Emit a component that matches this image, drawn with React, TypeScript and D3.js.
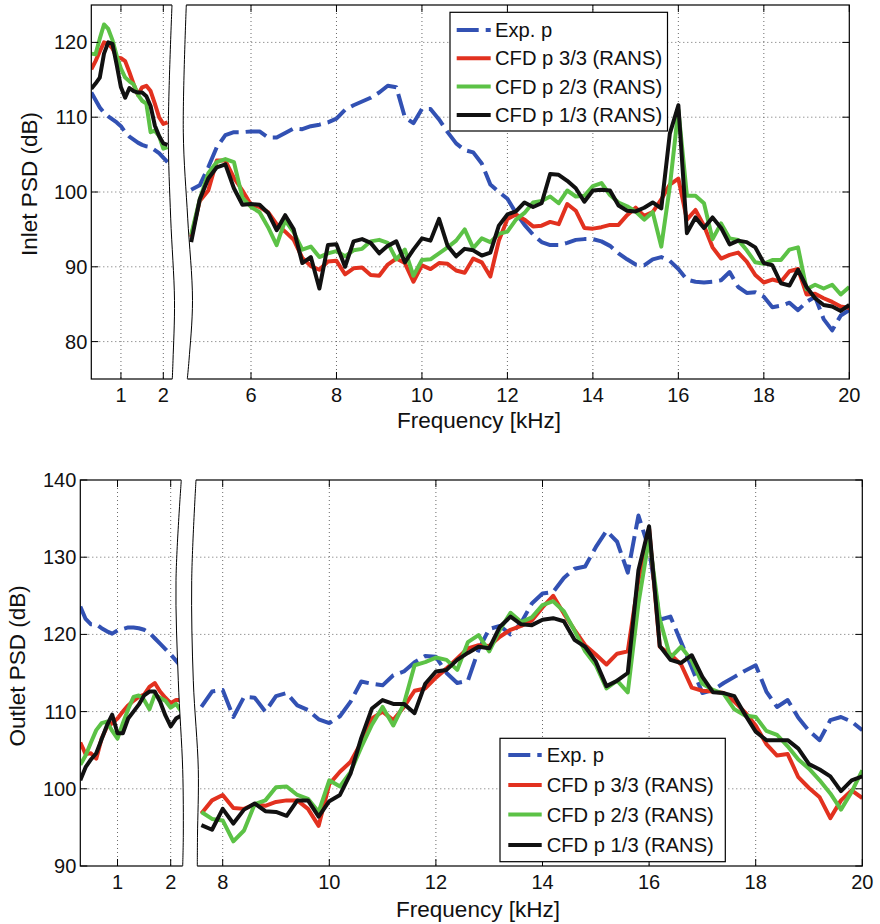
import React from "react";
import * as d3 from "d3";

// ---------- Inlet PSD (upper plot) ----------
const inletLowFreq = [0.3, 0.4, 0.5, 0.6, 0.7, 0.8, 0.9, 1.0, 1.1, 1.2, 1.3, 1.4, 1.5, 1.6, 1.7, 1.8, 1.9, 2.0, 2.1];
const inletLowExp = [113.3, 112.3, 111.3, 110.6, 110.1, 109.7, 109.3, 108.8, 108, 107.4, 107, 106.6, 106.3, 106.1, 106, 105.6, 105.2, 104.6, 104];
const inletLowCfd3 = [116.4, 117.5, 118.8, 120, 119.8, 119.2, 118, 117.9, 117.5, 116, 114.4, 113, 114, 114.2, 113.5, 111.8, 110, 109.1, 109.3];
const inletLowCfd2 = [118.5, 118.4, 120.5, 122.4, 121.8, 120.3, 118.2, 116.5, 115.3, 114.8, 114.4, 113, 112.2, 111.8, 108, 108.2, 107.5, 105.8, 106];
const inletLowCfd1 = [113.8, 114.5, 115.3, 118.5, 120, 119.8, 117, 114, 112.6, 113.9, 113.5, 113.3, 113.3, 112.8, 111.5, 108.9, 107.5, 106.5, 106.3];

const inletFreq = [
  4.6, 4.8, 5.0, 5.2, 5.4, 5.6, 5.8, 6.0, 6.2, 6.4,
  6.6, 6.8, 7.0, 7.2, 7.4, 7.6, 7.8, 8.0, 8.2, 8.4,
  8.6, 8.8, 9.0, 9.2, 9.4, 9.6, 9.8, 10.0, 10.2, 10.4,
  10.6, 10.8, 11.0, 11.2, 11.4, 11.6, 11.8, 12.0, 12.2, 12.4,
  12.6, 12.8, 13.0, 13.2, 13.4, 13.6, 13.8, 14.0, 14.2, 14.4,
  14.6, 14.8, 15.0, 15.2, 15.4, 15.6, 15.8, 16.0, 16.2, 16.4,
  16.6, 16.8, 17.0, 17.2, 17.4, 17.6, 17.8, 18.0, 18.2, 18.4,
  18.6, 18.8, 19.0, 19.2, 19.4, 19.6, 19.8, 20.0,
];
const inletExp = [
  100.3, 100.9, 103.3, 106, 107.6, 108, 108, 108.1, 108.1, 107.3,
  107.3, 107.9, 108.5, 108.4, 108.8, 109, 109.3, 109.8, 111, 111.6,
  112.1, 112.6, 113.3, 114.2, 114, 110, 109.2, 111.1, 111.1, 109.7,
  108, 106.5, 105.6, 105.3, 103.8, 101, 100, 99.1, 97.2, 95.6,
  94.3, 93.3, 92.9, 92.9, 93.2, 93.6, 93.7, 93.7, 93.4, 92.8,
  91.8, 91, 90.3, 90.2, 91, 91.3, 90.8, 89.7, 88.3, 88,
  87.9, 88, 88.2, 89.3, 87.3, 86.5, 86.6, 86, 84.6, 84.8,
  85.2, 84.2, 85.3, 86, 83, 81.5, 83.5, 84.2,
];
const inletCfd3 = [
  94, 98.8, 100.2, 104.2, 104.2, 101.9, 100.2, 98.3, 98, 97.3,
  95.7, 94.7, 93.6, 91.2, 90.1, 89.6, 90.7, 90.8, 89, 89.8,
  89.9, 88.9, 88.8, 90.3, 91.1, 90.5, 88, 90.2, 89.7, 90.5,
  90.4, 89.5, 89.2, 91.1, 90.6, 88.7, 93.5, 96.4, 97, 96.3,
  95.4, 95.5, 96, 95.7, 98.4, 97.5, 95.2, 95.1, 95.3, 95.6,
  95.6, 96.9, 97.9, 96.8, 97.3, 99, 101, 101.8, 96.3, 97.6,
  95.5, 92.6, 91.1, 91.6, 91.9, 90.7, 88.9, 87.9, 88.3, 88,
  89.4, 89.7, 86.3, 86.4, 85.8, 85.3, 84.7, 84.5,
];
const inletCfd2 = [
  94.3, 99, 102.5, 104, 104.4, 104, 99.2, 98, 97.3, 95.3,
  92.9, 96.2, 94.6, 92.3, 92.7, 91.3, 91.8, 92.1, 91.4, 92.2,
  92.4, 93.4, 93.6, 93.2, 91, 92.3, 88.8, 90.9, 91, 91.8,
  92.6, 93.5, 95, 92.5, 93.8, 93.3, 94.4, 94.7, 96.3, 97.2,
  98.6, 98.8, 99.4, 98.5, 100.2, 99.4, 99.5, 100.8, 101.2, 99.6,
  98.6, 98.1, 97.4, 96.3, 97.3, 92.7, 100.7, 111, 99.5, 99.5,
  98.5, 93.7, 95.8, 93.8, 93.6, 92.2, 90.6, 90.4, 90.9, 90.9,
  92.3, 92.6, 87, 87.6, 87.1, 87.6, 86.3, 87.3,
];
const inletCfd1 = [
  93.3, 99, 101.8, 103.3, 103.7, 100.5, 98.3, 98.4, 98.3, 97.2,
  94.9, 96.9, 95, 90.5, 91.3, 87.1, 92.9, 93, 90, 93.4,
  93.7, 93.2, 91.8, 92.8, 93.4, 90.6, 92.3, 93.8, 93.5, 96.4,
  92.8, 91.4, 92.4, 92.2, 91.5, 91.9, 95.5, 97, 97.4, 98.6,
  98, 98.5, 102.4, 102.3, 101.5, 100.5, 98.7, 100.2, 100.3, 100.2,
  98.2, 97.5, 97.4, 97.9, 98.6, 97.8, 107.8, 111.6, 94.5, 96.6,
  95.2, 96.6, 95.2, 93, 93.5, 93.3, 92.6, 90.5, 90.2, 87.8,
  87.5, 89.6, 87.3, 85.8, 84.9, 84.7, 84.1, 84.9,
];

// ---------- Outlet PSD (lower plot) ----------
const outletLowFreq = [0.3, 0.4, 0.5, 0.6, 0.7, 0.8, 0.9, 1.0, 1.1, 1.2, 1.3, 1.4, 1.5, 1.6, 1.7, 1.8, 1.9, 2.0, 2.1, 2.2];
const outletLowExp = [123.6, 122, 121.3, 121.3, 120.8, 120.4, 120.1, 120.5, 120.7, 120.9, 120.9, 120.8, 120.6, 120.2, 119.5, 118.8, 118.1, 117.4, 116.6, 115.8];
const outletLowCfd3 = [106, 104.5, 104.6, 103.9, 106.5, 108, 108.5, 109.1, 110, 110.8, 111.4, 111.9, 112.2, 113.2, 113.7, 112.6, 111.8, 111.1, 111.5, 111.5];
const outletLowCfd2 = [103.1, 104.3, 106, 107.6, 108.5, 108.7, 107.5, 106.5, 108.5, 110.3, 111.9, 112.1, 111.5, 110.3, 112.2, 111.8, 111.4, 110.5, 111, 110];
const outletLowCfd1 = [101.1, 102.8, 103.8, 104.6, 106.4, 108.2, 109.6, 107.2, 107.2, 109.1, 110, 110.9, 112.1, 112.6, 112.6, 111.3, 109.5, 108.1, 109.1, 109.5];

const outletFreq = [
  7.6, 7.8, 8.0, 8.2, 8.4, 8.6, 8.8, 9.0, 9.2, 9.4,
  9.6, 9.8, 10.0, 10.2, 10.4, 10.6, 10.8, 11.0, 11.2, 11.4,
  11.6, 11.8, 12.0, 12.2, 12.4, 12.6, 12.8, 13.0, 13.2, 13.4,
  13.6, 13.8, 14.0, 14.2, 14.4, 14.6, 14.8, 15.0, 15.2, 15.4,
  15.6, 15.8, 16.0, 16.2, 16.4, 16.6, 16.8, 17.0, 17.2, 17.4,
  17.6, 17.8, 18.0, 18.2, 18.4, 18.6, 18.8, 19.0, 19.2, 19.4,
  19.6, 19.8, 20.0,
];
const outletExp = [
  110.6, 112.6, 112.8, 109.3, 111.9, 111.8, 110, 112, 112.4, 110.8,
  110.2, 109, 108.5, 109.4, 111.3, 113.9, 113.6, 113.4, 114.7, 115.2,
  116.4, 117.2, 117.1, 115, 113.7, 114, 118, 120.7, 121.1, 120,
  121.5, 124, 125.3, 125.5, 127.3, 128.5, 128.8, 131.3, 133.4, 132,
  128, 135.4, 131, 121.9, 122.3, 119, 115.7, 112.4, 112.8, 113.7,
  114.5, 115.3, 116, 112.6, 110.6, 111.5, 109.2, 107.5, 106.3, 108.9,
  109.3, 108.7, 107.6,
];
const outletCfd3 = [
  96.8, 98.5, 99.2, 97.5, 97.4, 98, 97.8, 98.3, 98.5, 98.5,
  97.4, 95.2, 100.6, 102.2, 103.5, 106, 109.1, 110, 108.9, 110.6,
  112.7, 113, 114.4, 115.6, 116.9, 118.2, 118.6, 118.5, 119.7, 120.6,
  121.1, 121.8, 123.5, 125, 122.7, 120.6, 118.6, 117.4, 116.1, 117.5,
  117.8, 127, 133.7, 118.4, 117.4, 116.1, 113.1, 112.7, 112.6, 112.4,
  111.3, 109.9, 108.2, 105.8, 104.3, 104.5, 101.5, 100.1, 98.9, 96.2,
  98.5, 99.8, 98.8,
];
const outletCfd2 = [
  97, 96.1, 95.9, 93.2, 94.6, 98, 98.5, 100.2, 100.3, 99.2,
  98.7, 97, 101.1, 100.3, 102.2, 105.4, 108.3, 110.6, 108.2, 111,
  116, 116.4, 117, 116.7, 115.4, 119, 119.9, 117.8, 120.6, 122.8,
  121.6, 122.2, 123.8, 124.3, 123, 120.5, 117.8, 116, 113, 114,
  112.5, 124, 132.5, 122, 117, 118.4, 116.6, 113.6, 112.8, 112.3,
  110.3, 109.5, 109.3, 107.5, 107, 105.5, 103.8, 102.6, 101.1, 99.4,
  97.3, 99.6, 102.4,
];
const outletCfd1 = [
  95.3, 94.7, 97.4, 95.5, 97.3, 98.1, 97.1, 97, 96.5, 98.5,
  98.5, 96.4, 98.4, 99.2, 102, 106.6, 110.4, 111.5, 111, 111,
  109.8, 113.6, 115.2, 115.4, 116.7, 117.6, 118.4, 118.2, 121, 122.3,
  121.3, 121.2, 121.9, 122.1, 121.7, 119.3, 118.4, 116.5, 113.3, 114,
  115, 128.3, 134, 118.5, 116.7, 116.3, 117.3, 114.5, 112.5, 112.4,
  112, 109.6, 107.4, 106.3, 106.3, 106.3, 105.2, 103.2, 102.5, 101.6,
  99.7, 101.1, 101.6,
];

const seriesNames = ["Exp. p", "CFD p 3/3 (RANS)", "CFD p 2/3 (RANS)", "CFD p 1/3 (RANS)"];
const seriesColors = ["#3251b3", "#e2311f", "#5cc246", "#111111"];
const seriesDash = ["22 7", null, null, null];

const inletYTicks = [80, 90, 100, 110, 120];
const outletYTicks = [90, 100, 110, 120, 130, 140];
const inletLowTicks = [1, 2];
const inletMainTicks = [6, 8, 10, 12, 14, 16, 18, 20];
const outletLowTicks = [1, 2];
const outletMainTicks = [8, 10, 12, 14, 16, 18, 20];

const FONT = '"Liberation Sans", Arial, Helvetica, sans-serif';

type Pt = [number, number];

interface PanelCfg {
  id: string;
  left: number;
  right: number;
  top: number;
  bottom: number;
  yDomain: [number, number];
  yTicks: number[];
  lowDomain: [number, number];
  lowRange: [number, number];
  mainDomain: [number, number];
  mainRange: [number, number];
  lowTicks: number[];
  mainTicks: number[];
  lowFreq: number[];
  mainFreq: number[];
  lowSeries: number[][];
  mainSeries: number[][];
  breakLeft: Pt[];
  breakRight: Pt[];
  yLabel: string;
  yLabelX: number;
  yLabelY: number;
  xLabelX: number;
  xLabelY: number;
  legend: { x: number; y: number; w: number; h: number; rows: number[]; lineX1: number; lineX2: number; textX: number };
}

const panels: PanelCfg[] = [
  {
    id: "inlet",
    left: 91.3,
    right: 849.3,
    top: 5,
    bottom: 379,
    yDomain: [75, 125],
    yTicks: inletYTicks,
    lowDomain: [0.3, 2],
    lowRange: [91.3, 163.3],
    mainDomain: [6, 20],
    mainRange: [251, 849.3],
    lowTicks: inletLowTicks,
    mainTicks: inletMainTicks,
    lowFreq: inletLowFreq,
    mainFreq: inletFreq,
    lowSeries: [inletLowExp, inletLowCfd3, inletLowCfd2, inletLowCfd1],
    mainSeries: [inletExp, inletCfd3, inletCfd2, inletCfd1],
    breakLeft: [[0, 172], [0.34, 168.3], [0.57, 170.7], [0.79, 174.5], [0.95, 173], [1, 172.3]],
    breakRight: [[0, 186.3], [0.34, 183.3], [0.57, 187.7], [0.79, 192.5], [0.95, 189], [1, 187.3]],
    yLabel: "Inlet PSD (dB)",
    yLabelX: 36.5,
    yLabelY: 184,
    xLabelX: 479,
    xLabelY: 428,
    legend: { x: 450, y: 12.3, w: 217.5, h: 118.7, rows: [30, 58.3, 86.5, 115], lineX1: 456.7, lineX2: 490.7, textX: 495 },
  },
  {
    id: "outlet",
    left: 80.3,
    right: 862.3,
    top: 480,
    bottom: 866,
    yDomain: [90, 140],
    yTicks: outletYTicks,
    lowDomain: [0.3, 2],
    lowRange: [80.3, 170.7],
    mainDomain: [8, 20],
    mainRange: [222.7, 862.3],
    lowTicks: outletLowTicks,
    mainTicks: outletMainTicks,
    lowFreq: outletLowFreq,
    mainFreq: outletFreq,
    lowSeries: [outletLowExp, outletLowCfd3, outletLowCfd2, outletLowCfd1],
    mainSeries: [outletExp, outletCfd3, outletCfd2, outletCfd1],
    breakLeft: [[0, 181.3], [0.26, 176], [0.52, 178.3], [0.75, 182.7], [0.92, 183.3], [1, 182.7]],
    breakRight: [[0, 196], [0.26, 191.7], [0.52, 193.3], [0.75, 198.3], [0.92, 197.5], [1, 197.3]],
    yLabel: "Outlet PSD (dB)",
    yLabelX: 25,
    yLabelY: 665.8,
    xLabelX: 478,
    xLabelY: 916.5,
    legend: { x: 500, y: 738.3, w: 225.3, h: 123.4, rows: [755, 785, 814.5, 845], lineX1: 508.3, lineX2: 541.7, textX: 546.7 },
  },
];

function Panel({ cfg }: { cfg: PanelCfg }) {
  const y = d3.scaleLinear().domain(cfg.yDomain).range([cfg.bottom, cfg.top]);
  const xLow = d3.scaleLinear().domain(cfg.lowDomain).range(cfg.lowRange);
  const xMain = d3.scaleLinear().domain(cfg.mainDomain).range(cfg.mainRange);

  const makePath = (xs: d3.ScaleLinear<number, number>, freq: number[], vals: number[]) =>
    d3
      .line<number>()
      .x((_, i) => xs(freq[i]))
      .y((v) => y(v))(vals) || "";

  const h = cfg.bottom - cfg.top;
  const curve = d3
    .line<Pt>()
    .x((d) => d[1])
    .y((d) => cfg.top + d[0] * h)
    .curve(d3.curveCatmullRom.alpha(0.5));
  const curveExt = d3
    .line<Pt>()
    .x((d) => d[1])
    .y((d) => cfg.top - 2 + d[0] * (h + 4))
    .curve(d3.curveCatmullRom.alpha(0.5));
  const fillPath =
    curveExt(cfg.breakLeft) +
    "L" +
    (curveExt([...cfg.breakRight].reverse()) || "").slice(1) +
    "Z";

  const gridX = [...cfg.lowTicks.map((t) => xLow(t)), ...cfg.mainTicks.map((t) => xMain(t))].filter(
    (x) => x > cfg.left + 1 && x < cfg.right - 1
  );
  const gridY = cfg.yTicks.map((t) => y(t)).filter((v) => v > cfg.top + 1 && v < cfg.bottom - 1);
  const tickLen = 7;
  const clipId = `clip-${cfg.id}`;
  const lg = cfg.legend;

  return (
    <g>
      <defs>
        <clipPath id={clipId}>
          <rect x={cfg.left} y={cfg.top} width={cfg.right - cfg.left} height={cfg.bottom - cfg.top} />
        </clipPath>
      </defs>

      {/* dotted grid */}
      <g stroke="#6a6a6a" strokeWidth={1} strokeDasharray="1 3">
        {gridX.map((x, i) => (
          <line key={`gx${i}`} x1={x} x2={x} y1={cfg.top} y2={cfg.bottom} />
        ))}
        {gridY.map((v, i) => (
          <line key={`gy${i}`} x1={cfg.left} x2={cfg.right} y1={v} y2={v} />
        ))}
      </g>

      {/* data curves */}
      <g clipPath={`url(#${clipId})`} fill="none" strokeWidth={4} strokeLinejoin="round" strokeLinecap="butt">
        {cfg.mainSeries.map((vals, si) => (
          <g key={`s${si}`} stroke={seriesColors[si]} strokeDasharray={seriesDash[si] || undefined}>
            <path d={makePath(xLow, cfg.lowFreq, cfg.lowSeries[si])} />
            <path d={makePath(xMain, cfg.mainFreq, vals)} />
          </g>
        ))}
      </g>

      {/* axes box and ticks */}
      <rect
        x={cfg.left}
        y={cfg.top}
        width={cfg.right - cfg.left}
        height={cfg.bottom - cfg.top}
        fill="none"
        stroke="#000"
        strokeWidth={1.2}
      />
      <g stroke="#000" strokeWidth={1}>
        {cfg.yTicks.map((t, i) => (
          <g key={`yt${i}`}>
            <line x1={cfg.left} x2={cfg.left + tickLen} y1={y(t)} y2={y(t)} />
            <line x1={cfg.right} x2={cfg.right - tickLen} y1={y(t)} y2={y(t)} />
          </g>
        ))}
        {[...cfg.lowTicks.map((t) => xLow(t)), ...cfg.mainTicks.map((t) => xMain(t))].map((x, i) => (
          <g key={`xt${i}`}>
            <line x1={x} x2={x} y1={cfg.bottom} y2={cfg.bottom - tickLen} />
            <line x1={x} x2={x} y1={cfg.top} y2={cfg.top + tickLen} />
          </g>
        ))}
      </g>

      {/* axis break */}
      <path d={fillPath} fill="#fff" stroke="none" />
      <path d={curve(cfg.breakLeft) || ""} fill="none" stroke="#000" strokeWidth={1} />
      <path d={curve(cfg.breakRight) || ""} fill="none" stroke="#000" strokeWidth={1} />

      {/* tick labels */}
      <g fontFamily={FONT} fontSize={20} fill="#111">
        {cfg.yTicks.map((t, i) => (
          <text key={`yl${i}`} x={cfg.left - 4} y={y(t) + 7} textAnchor="end">
            {t}
          </text>
        ))}
        {cfg.lowTicks.map((t, i) => (
          <text key={`xll${i}`} x={xLow(t)} y={cfg.bottom + 22.5} textAnchor="middle">
            {t}
          </text>
        ))}
        {cfg.mainTicks.map((t, i) => (
          <text key={`xlm${i}`} x={xMain(t)} y={cfg.bottom + 22.5} textAnchor="middle">
            {t}
          </text>
        ))}
      </g>

      {/* axis titles */}
      <text x={cfg.xLabelX} y={cfg.xLabelY} textAnchor="middle" fontFamily={FONT} fontSize={22.5} fill="#111">
        Frequency [kHz]
      </text>
      <text
        transform={`translate(${cfg.yLabelX},${cfg.yLabelY}) rotate(-90)`}
        textAnchor="middle"
        fontFamily={FONT}
        fontSize={22.5}
        fill="#111"
      >
        {cfg.yLabel}
      </text>

      {/* legend */}
      <g>
        <rect x={lg.x} y={lg.y} width={lg.w} height={lg.h} fill="#fff" stroke="#000" strokeWidth={1.2} />
        {seriesNames.map((name, i) => (
          <g key={`lg${i}`}>
            <line
              x1={lg.lineX1}
              x2={lg.lineX2}
              y1={lg.rows[i]}
              y2={lg.rows[i]}
              stroke={seriesColors[i]}
              strokeWidth={4}
              strokeDasharray={seriesDash[i] || undefined}
            />
            <text x={lg.textX} y={lg.rows[i] + 7} fontFamily={FONT} fontSize={20.2} fill="#111">
              {name}
            </text>
          </g>
        ))}
      </g>
    </g>
  );
}

export default function App() {
  return (
    <svg
      width={880}
      height={924}
      viewBox="0 0 880 924"
      style={{ position: "absolute", left: 0, top: 0, background: "#fff" }}
    >
      <rect x={0} y={0} width={880} height={924} fill="#fff" />
      {panels.map((p) => (
        <Panel key={p.id} cfg={p} />
      ))}
    </svg>
  );
}
